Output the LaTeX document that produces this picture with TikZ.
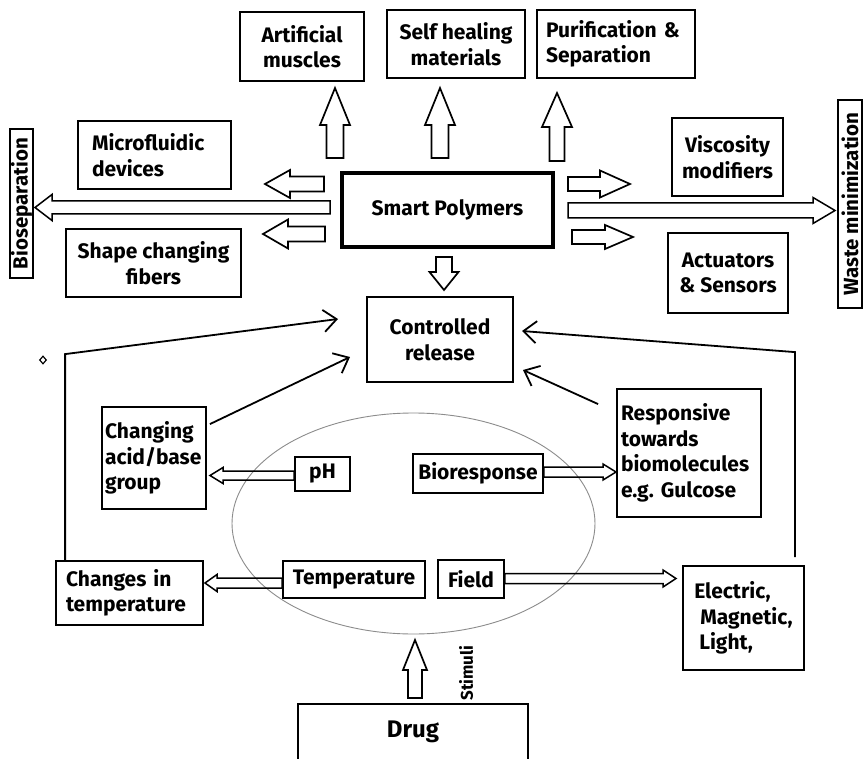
\documentclass[tikz,border=0pt]{standalone}
\usepackage{fontspec}
\setmainfont{Fira Sans}
\usetikzlibrary{calc,arrows.meta,shapes.geometric}
\hyphenpenalty=10000
\exhyphenpenalty=10000
\frenchspacing
\newcommand\bxfont{\fontsize{21}{25.5}\selectfont\bfseries}
\newcommand\rotfont{\fontsize{20.5}{24}\selectfont\bfseries}
\tikzset{
  bx/.style={draw, line width=1.8pt, fill=white, inner sep=0pt, font=\bxfont, align=center},
  lbx/.style={bx, align=left},
  barrow/.style={draw, fill=white, line width=1.7pt, line join=miter},
  thinarrow/.style={draw, fill=white, line width=1.5pt, line join=miter},
  conn/.style={line width=1.8pt, -{Straight Barb[length=13pt,width=22pt,line width=1.8pt]}},
}
% hollow block arrow: [style] {from} {to} {shaft half width} {head half width} {head length}
\newcommand\blockarrow[6][barrow]{%
  \path let \p1=#2, \p2=#3 in \pgfextra{%
    \pgfmathsetmacro\tmpA{atan2(\y2-\y1,\x2-\x1)}%
    \pgfmathsetmacro\tmpL{veclen(\x2-\x1,\y2-\y1)}%
    \pgfmathsetmacro\tmpH{\tmpL-#6}%
    \xdef\baAng{\tmpA}\xdef\baLen{\tmpL}\xdef\baH{\tmpH}};
  \begin{scope}[shift={#2}, rotate=\baAng]
    \path[#1] (0pt,-#4pt) -- (\baH pt,-#4pt) -- (\baH pt,-#5pt) -- (\baLen pt,0pt)
      -- (\baH pt,#5pt) -- (\baH pt,#4pt) -- (0pt,#4pt) -- cycle;
  \end{scope}}
\begin{document}
\begin{tikzpicture}[x=1pt,y=-1pt]
\useasboundingbox (0,0) rectangle (864,759);
\fill[white] (0,0) rectangle (864,759);
\clip (0,0) rectangle (864,759);

% stimuli ellipse
\node[draw=black!45, line width=0.9pt, ellipse, minimum width=363pt, minimum height=221pt, inner sep=0pt] (ell) at (413.5,523.5) {};

% top row
\node[bx, minimum width=124pt, minimum height=69pt] (am) at (302,46.5) {Artificial\\muscles};
\node[bx, minimum width=138pt, minimum height=68pt] (sh) at (456,44) {Self healing\\materials};
\node[lbx, minimum width=158pt, minimum height=68pt, text width=140pt, inner xsep=9pt] (ps) at (616,44) {Purification \&\\Separation};

% left / right applications
\node[lbx, minimum width=153pt, minimum height=68pt, text width=125pt, inner xsep=14pt] (mf) at (154.5,155) {Microfluidic\\devices};
\node[bx, minimum width=175pt, minimum height=68pt] (scf) at (153.5,263) {Shape changing\\fibers};
\node[bx, minimum width=111pt, minimum height=78pt] (vm) at (727.5,157) {Viscosity\\modifiers};
\node[bx, minimum width=120pt, minimum height=80pt] (as) at (728,273) {Actuators\\\& Sensors};
\node[bx, font=\rotfont, rotate=90, minimum width=149pt, minimum height=23pt] (bio) at (21.5,203.5) {Bioseparation};
\node[bx, font=\rotfont, rotate=90, minimum width=208pt, minimum height=24pt] (wm) at (850,204) {Waste minimization};

% centre
\node[bx, line width=4.5pt, minimum width=211pt, minimum height=74pt] (sp) at (447.5,210) {Smart Polymers};
\node[bx, minimum width=146pt, minimum height=85pt] (cr) at (440,339.5) {Controlled\\release};

% stimuli and responses
\node[lbx, minimum width=104pt, minimum height=102pt, text width=98pt, inner xsep=3pt] (ca) at (154,458) {Changing\\acid/base\\group};
\node[bx, minimum width=55pt, minimum height=34pt] (ph) at (322.5,474) {pH};
\node[bx, minimum width=130pt, minimum height=39pt] (br) at (478,473.5) {Bioresponse};
\node[lbx, minimum width=144pt, minimum height=128pt, text width=136pt, inner xsep=4pt] (rt) at (689,453) {Responsive\\towards\\biomolecules\\e.g. Gulcose};
\node[lbx, minimum width=147pt, minimum height=64pt, text width=127pt, inner xsep=10pt] (ct) at (129.5,593) {Changes in\\temperature};
\node[bx, minimum width=142pt, minimum height=37pt] (tp) at (354,579.5) {Temperature};
\node[bx, minimum width=66pt, minimum height=38pt] (fd) at (471,579) {Field};
\node[lbx, minimum width=121pt, minimum height=104pt] (em) at (743.5,618) {Electric,\\\hspace*{6pt}Magnetic,\\\hspace*{5pt}Light,};

% drug
\node[bx, font=\fontsize{24}{28}\selectfont\bfseries, minimum width=230pt, minimum height=56pt] (dr) at (413,732) {Drug};
\node[font=\fontsize{17}{20}\selectfont\bfseries, rotate=90, inner sep=0pt] (stim) at (466,673) {Stimuli};

% small mark
\node[draw, diamond, line width=1.2pt, minimum width=7pt, minimum height=8pt, inner sep=0pt] (mark) at (43,360) {};

% block arrow end points
\coordinate (u1s) at (335,158); \coordinate (u1e) at (335,88);
\coordinate (u2s) at (440,158); \coordinate (u2e) at (440,88);
\coordinate (u3s) at (557,161); \coordinate (u3e) at (557,93);
\coordinate (l1s) at (324,184); \coordinate (l1e) at (265,184);
\coordinate (l2s) at (325,234); \coordinate (l2e) at (263,234);
\coordinate (r1s) at (568,184); \coordinate (r1e) at (630,184);
\coordinate (r2s) at (572,237); \coordinate (r2e) at (633,237);
\coordinate (dns) at (444,257); \coordinate (dne) at (444,290);
\coordinate (drs) at (415,698); \coordinate (dre) at (415,640);
\coordinate (bls) at (330,207.5); \coordinate (ble) at (35,207.5);
\coordinate (wrs) at (568,210.5); \coordinate (wre) at (835,210.5);
\coordinate (phe) at (210,475.5); \coordinate (tpe) at (205,583);
\coordinate (bre) at (616,472); \coordinate (fde) at (676,578.5);

\blockarrow{(u1s)}{(u1e)}{8.5}{15}{37}
\blockarrow{(u2s)}{(u2e)}{8.5}{15}{37}
\blockarrow{(u3s)}{(u3e)}{7.5}{15}{34}
\blockarrow{(l1s)}{(l1e)}{7.5}{14}{25}
\blockarrow{(l2s)}{(l2e)}{7.5}{14.5}{25}
\blockarrow{(r1s)}{(r1e)}{7}{13.5}{30}
\blockarrow{(r2s)}{(r2e)}{7}{12}{28}
\blockarrow{(dns)}{(dne)}{8}{14.5}{18}
\blockarrow{(drs)}{(dre)}{7}{12}{30}
\blockarrow[thinarrow]{(bls)}{(ble)}{6.5}{13}{17}
\blockarrow[thinarrow]{(wrs)}{(wre)}{7.5}{13}{22}
\blockarrow[thinarrow,fill=none]{($(ph.west)+(0,1.5)$)}{(phe)}{4.5}{8}{13}
\blockarrow[thinarrow,fill=none]{($(tp.west)+(0,3.5)$)}{(tpe)}{5}{8.5}{12}
\blockarrow[thinarrow,fill=none]{($(br.east)+(0,-1.5)$)}{(bre)}{5}{8}{13}
\blockarrow[thinarrow,fill=none]{($(fd.east)+(0,-0.5)$)}{(fde)}{5}{8.5}{13}

% thin connectors
\coordinate (t1) at (338,319);
\coordinate (t2) at (350,357);
\coordinate (t3) at (522,331);
\coordinate (t4) at (523,370);
\draw[conn] ($(ct.north west)+(10,0)$) -- ++(0,-206) -- (t1);
\draw[conn] ($(ca.north east)+(3,18)$) -- (t2);
\draw[conn] ($(em.north east)+(-10,-8)$) -- ++(0,-205) -- (t3);
\draw[conn] ($(rt.north west)+(-18,16)$) -- (t4);
\end{tikzpicture}
\end{document}
